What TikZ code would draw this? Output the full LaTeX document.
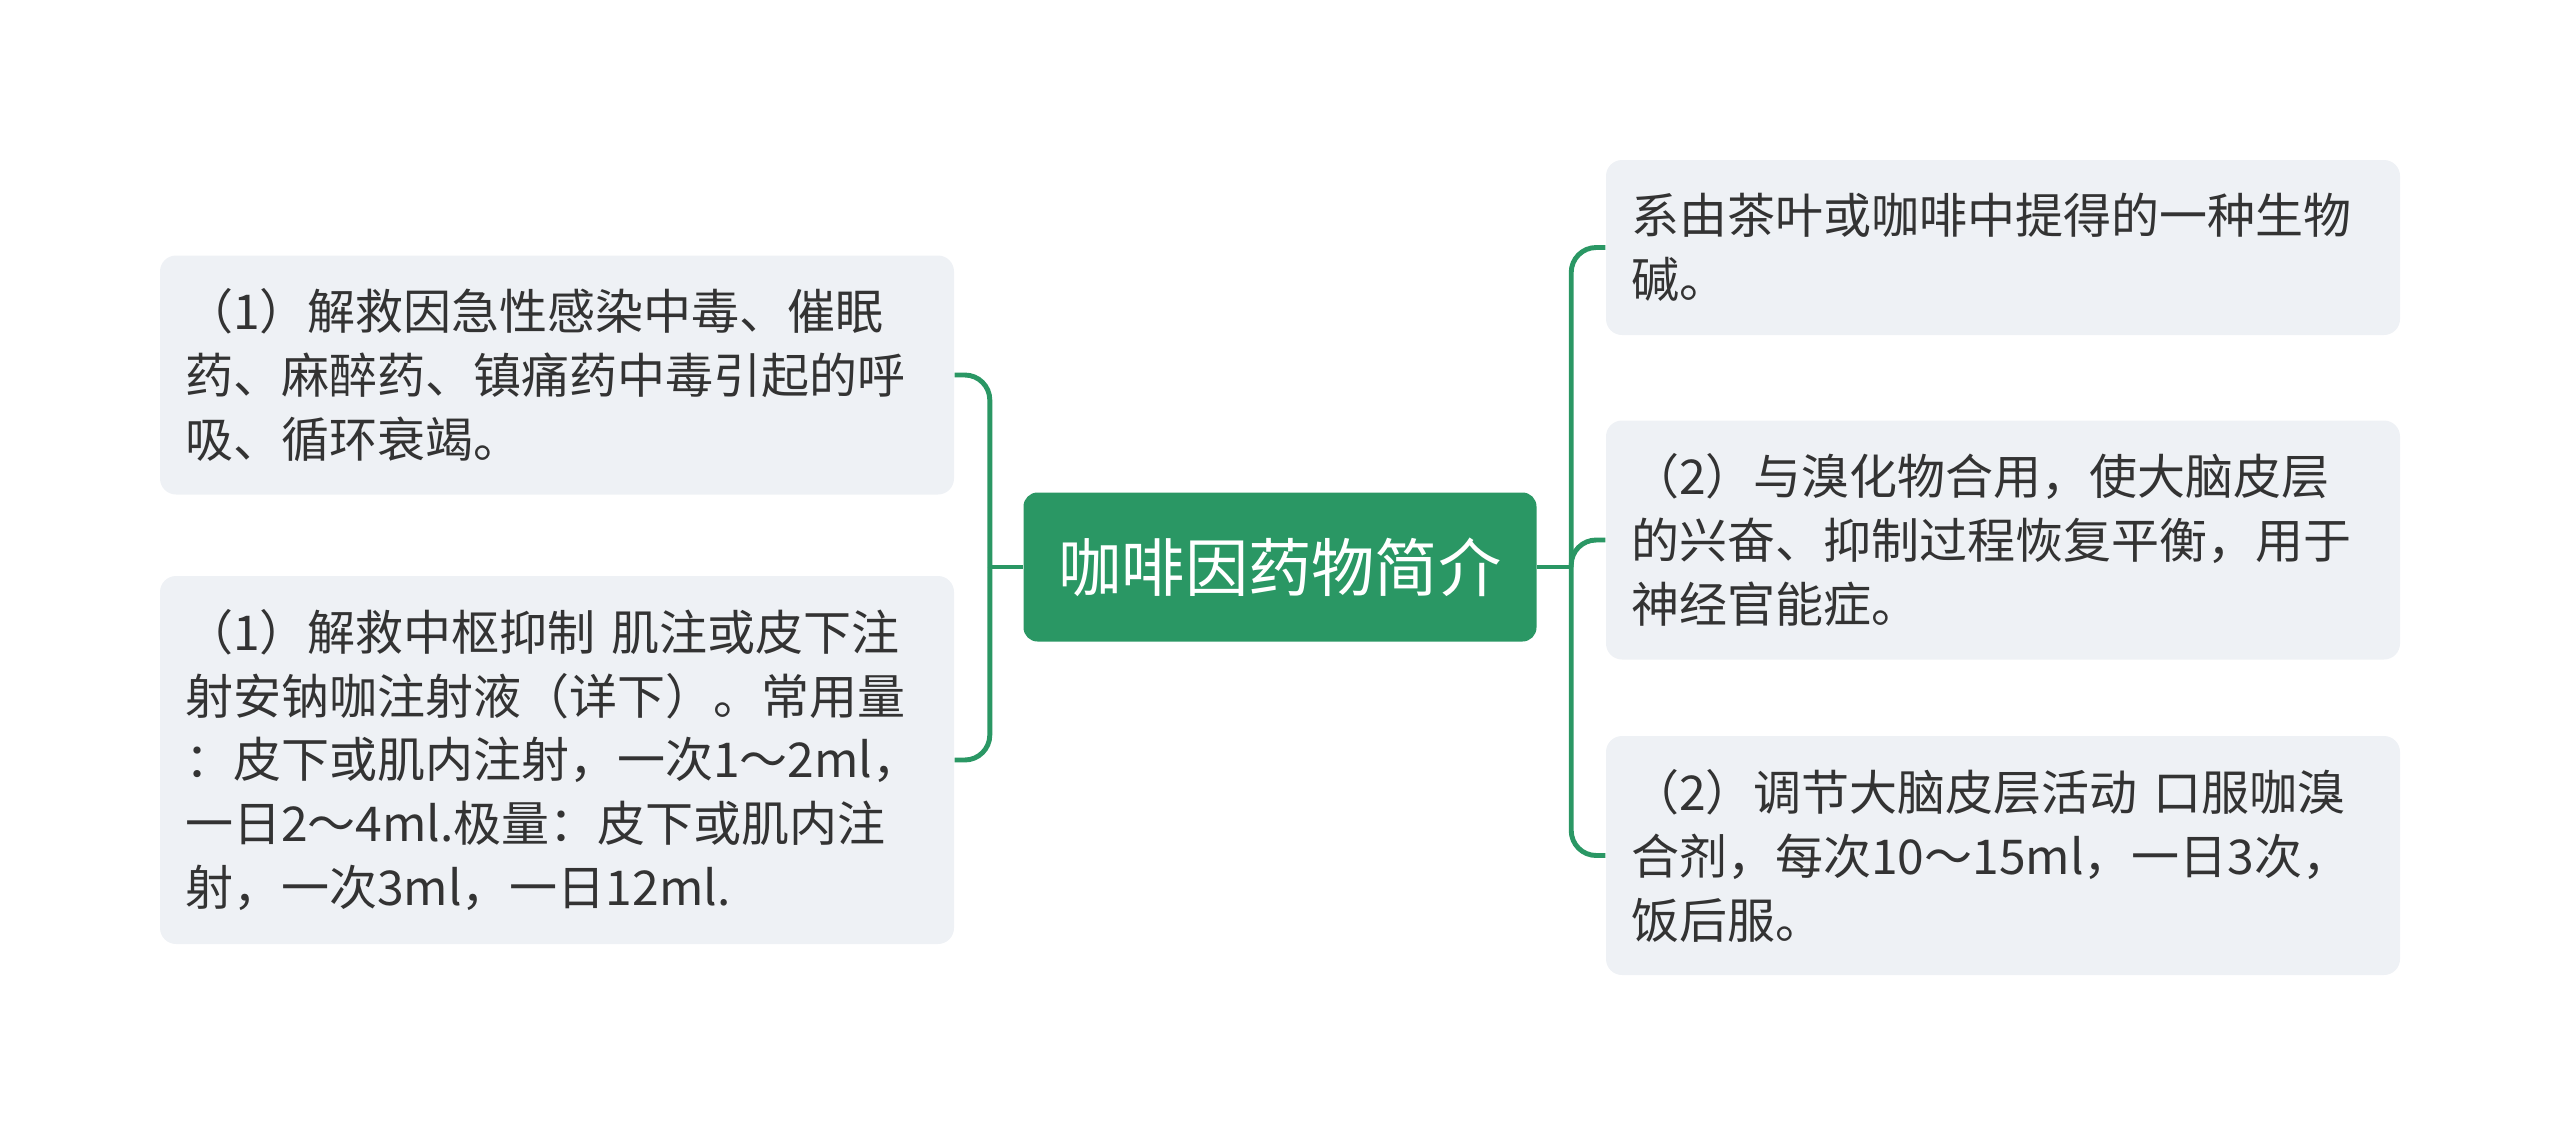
\documentclass[tikz,border=0pt]{standalone}
\usepackage{fontspec}
\setmainfont{Noto Sans CJK SC}
\usepackage{tikz}
\usetikzlibrary{positioning}

\definecolor{mapgreen}{HTML}{2A9764}
\definecolor{leafgray}{HTML}{EEF1F5}
\definecolor{textgray}{HTML}{333333}

\begin{document}
\begin{tikzpicture}[
    leaf/.style={rounded corners=1.6mm, fill=leafgray, text=textgray, text width=7.44cm,
        inner xsep=0.25cm, inner ysep=0pt, align=left, font=\fontsize{13.66pt}{18.2pt}\selectfont},
    topic/.style={rounded corners=1.4mm, fill=mapgreen, text=white, minimum width=5.13cm,
        minimum height=1.49cm, font=\fontsize{18pt}{22pt}\selectfont},
    link/.style={draw=mapgreen, line width=1.4pt, rounded corners=2.5mm}
]
    \useasboundingbox (0,0) rectangle (25.6,11.36);

    \node[topic] at (12.80, 5.69) (root) {咖啡因药物简介};

    % left side
    \node[leaf, minimum height=2.39cm] at (5.57, 7.61) (l1) {（1）解救因急性感染中毒、催眠\\药、麻醉药、镇痛药中毒引起的呼\\吸、循环衰竭。};
    \node[leaf, minimum height=3.68cm] at (5.57, 3.76) (l2) {（1）解救中枢抑制 肌注或皮下注\\射安钠咖注射液（详下）。常用量\\：皮下或肌内注射，一次1～2ml，\\一日2～4ml.极量：皮下或肌内注\\射，一次3ml，一日12ml.};

    % right side
    \node[leaf, minimum height=1.75cm] at (20.03, 8.885) (r1) {系由茶叶或咖啡中提得的一种生物\\碱。};
    \node[leaf, minimum height=2.39cm] at (20.03, 5.96) (r2) {（2）与溴化物合用，使大脑皮层\\的兴奋、抑制过程恢复平衡，用于\\神经官能症。};
    \node[leaf, minimum height=2.39cm] at (20.03, 2.805) (r3) {（2）调节大脑皮层活动 口服咖溴\\合剂，每次10～15ml，一日3次，\\饭后服。};

    \coordinate[left=0.33cm of root.west] (lj);
    \coordinate[right=0.34cm of root.east] (rj);

    \draw[link] (root.west) -- (lj);
    \draw[link] (lj) |- (l1.east);
    \draw[link] (lj) |- (l2.east);

    \draw[link] (root.east) -- (rj);
    \draw[link] (rj) |- (r1.west);
    \draw[link] (rj) |- (r2.west);
    \draw[link] (rj) |- (r3.west);
\end{tikzpicture}
\end{document}
